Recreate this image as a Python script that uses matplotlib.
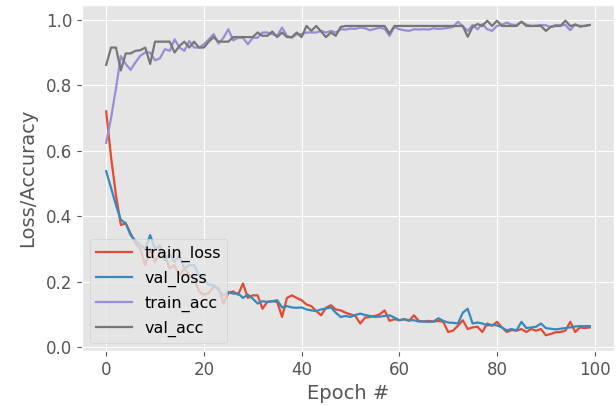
import matplotlib
matplotlib.use("Agg")
import matplotlib.pyplot as plt
import numpy as np

plt.style.use("ggplot")

epochs = list(range(100))

train_loss = [0.72, 0.58, 0.465, 0.373, 0.378, 0.347, 0.317, 0.30, 0.25, 0.30,
              0.26, 0.29, 0.28, 0.24, 0.25, 0.22, 0.24, 0.22, 0.21, 0.17,
              0.16, 0.165, 0.185, 0.18, 0.133, 0.165, 0.17, 0.16, 0.194, 0.15,
              0.158, 0.158, 0.117, 0.138, 0.14, 0.138, 0.092, 0.15, 0.158, 0.15,
              0.143, 0.13, 0.125, 0.11, 0.097, 0.12, 0.128, 0.115, 0.112, 0.105,
              0.10, 0.095, 0.072, 0.09, 0.092, 0.095, 0.10, 0.112, 0.08, 0.085,
              0.082, 0.085, 0.08, 0.097, 0.08, 0.078, 0.08, 0.078, 0.08, 0.077,
              0.046, 0.05, 0.065, 0.082, 0.055, 0.06, 0.062, 0.046, 0.072, 0.065,
              0.077, 0.06, 0.046, 0.052, 0.05, 0.055, 0.046, 0.055, 0.05, 0.055,
              0.036, 0.04, 0.045, 0.046, 0.05, 0.077, 0.046, 0.06, 0.058, 0.06]

val_loss = [0.537, 0.486, 0.434, 0.389, 0.378, 0.342, 0.325, 0.312, 0.30, 0.342,
            0.30, 0.31, 0.265, 0.285, 0.26, 0.28, 0.24, 0.25, 0.25, 0.22,
            0.21, 0.19, 0.19, 0.175, 0.158, 0.168, 0.163, 0.164, 0.15, 0.16,
            0.148, 0.133, 0.14, 0.138, 0.14, 0.143, 0.121, 0.125, 0.121, 0.12,
            0.121, 0.115, 0.112, 0.11, 0.115, 0.118, 0.121, 0.105, 0.092, 0.095,
            0.092, 0.098, 0.102, 0.098, 0.095, 0.092, 0.093, 0.095, 0.097, 0.09,
            0.082, 0.085, 0.082, 0.082, 0.078, 0.078, 0.077, 0.078, 0.088, 0.08,
            0.075, 0.074, 0.072, 0.105, 0.117, 0.072, 0.075, 0.072, 0.066, 0.068,
            0.066, 0.06, 0.051, 0.055, 0.051, 0.077, 0.058, 0.06, 0.062, 0.072,
            0.058, 0.056, 0.054, 0.056, 0.058, 0.06, 0.063, 0.064, 0.064, 0.064]

train_acc = [0.624, 0.70, 0.79, 0.889, 0.865, 0.847, 0.87, 0.89, 0.90, 0.90,
             0.876, 0.882, 0.91, 0.905, 0.94, 0.915, 0.905, 0.935, 0.915, 0.915,
             0.925, 0.94, 0.956, 0.927, 0.945, 0.971, 0.937, 0.945, 0.945, 0.925,
             0.945, 0.945, 0.961, 0.961, 0.956, 0.951, 0.976, 0.951, 0.945, 0.956,
             0.956, 0.961, 0.961, 0.961, 0.966, 0.961, 0.966, 0.961, 0.971, 0.97,
             0.973, 0.972, 0.976, 0.974, 0.968, 0.972, 0.976, 0.972, 0.951, 0.978,
             0.971, 0.968, 0.966, 0.971, 0.97, 0.971, 0.97, 0.974, 0.972, 0.973,
             0.975, 0.978, 0.994, 0.98, 0.966, 0.984, 0.971, 0.987, 0.971, 0.966,
             0.981, 0.985, 0.991, 0.985, 0.984, 0.994, 0.985, 0.981, 0.982, 0.984,
             0.983, 0.978, 0.984, 0.983, 0.984, 0.968, 0.987, 0.978, 0.982, 0.984]

val_acc = [0.862, 0.915, 0.915, 0.845, 0.897, 0.897, 0.905, 0.907, 0.915, 0.865,
           0.933, 0.933, 0.933, 0.933, 0.90, 0.92, 0.933, 0.915, 0.933, 0.915,
           0.915, 0.933, 0.947, 0.933, 0.933, 0.933, 0.947, 0.947, 0.947, 0.947,
           0.947, 0.961, 0.951, 0.951, 0.964, 0.947, 0.961, 0.947, 0.947, 0.961,
           0.947, 0.981, 0.966, 0.981, 0.964, 0.947, 0.961, 0.951, 0.978, 0.981,
           0.981, 0.981, 0.981, 0.981, 0.981, 0.981, 0.981, 0.981, 0.958, 0.981,
           0.981, 0.981, 0.981, 0.981, 0.981, 0.981, 0.981, 0.981, 0.981, 0.981,
           0.981, 0.981, 0.981, 0.981, 0.948, 0.978, 0.987, 0.981, 0.997, 0.981,
           0.997, 0.981, 0.981, 0.981, 0.981, 0.994, 0.981, 0.981, 0.981, 0.981,
           0.966, 0.978, 0.981, 0.981, 0.997, 0.981, 0.984, 0.981, 0.981, 0.984]

fig = plt.figure(figsize=(6.16, 4.05), dpi=100)
ax = fig.add_axes([82 / 616, 54 / 405, (614 - 82) / 616, (351 - 5) / 405])

ax.plot(epochs, train_loss, label="train_loss", linewidth=1.6)
ax.plot(epochs, val_loss, label="val_loss", linewidth=1.6)
ax.plot(epochs, train_acc, label="train_acc", linewidth=1.6)
ax.plot(epochs, val_acc, label="val_acc", linewidth=1.6)

ax.set_xlabel("Epoch #", fontsize=14)
ax.set_ylabel("Loss/Accuracy", fontsize=14, labelpad=6)
ax.tick_params(labelsize=12)
ax.legend(loc="lower left", fontsize=11.5, labelspacing=0.55, handlelength=2.2)

fig.savefig("out.png", dpi=100)
